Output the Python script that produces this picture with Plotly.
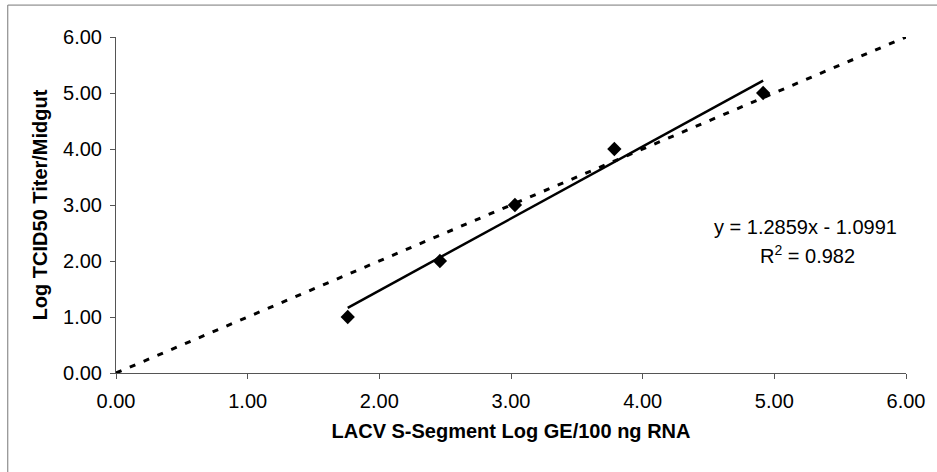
import plotly.graph_objects as go

# Data
ge_log = [1.76, 2.46, 3.03, 3.785, 4.915]
titer_log = [1.0, 2.0, 3.0, 4.0, 5.0]
slope = 1.2859
intercept = -1.0991
r2 = 0.982
ident_x = [0, 6]
ident_y = [0, 6]
tick_vals = [0, 1, 2, 3, 4, 5, 6]
tick_text = ["0.00", "1.00", "2.00", "3.00", "4.00", "5.00", "6.00"]

FONT = "Liberation Sans, Arial, sans-serif"

fit_x = [min(ge_log), max(ge_log)]
fit_y = [slope * v + intercept for v in fit_x]

fig = go.Figure()
fig.add_trace(go.Scatter(x=ident_x, y=ident_y, mode="lines",
                         line=dict(color="black", width=3, dash="6px,9px"),
                         showlegend=False, hoverinfo="skip"))
fig.add_trace(go.Scatter(x=fit_x, y=fit_y, mode="lines",
                         line=dict(color="black", width=2.5),
                         showlegend=False))
fig.add_trace(go.Scatter(x=ge_log, y=titer_log, mode="markers",
                         marker=dict(symbol="diamond", size=11, color="black"),
                         showlegend=False))

axis_common = dict(
    range=[0, 6], tickvals=tick_vals, ticktext=tick_text,
    showgrid=False, zeroline=False, showline=True,
    linecolor="#555", linewidth=1, ticks="outside", ticklen=5,
    tickcolor="#555", tickfont=dict(family=FONT, size=20, color="black"),
)

fig.update_layout(
    width=937, height=472,
    margin=dict(l=116, r=25, t=37, b=99),
    paper_bgcolor="white", plot_bgcolor="white",
    font=dict(family=FONT, color="black"),
    xaxis=dict(**axis_common, ticklabelstandoff=5,
               title=dict(text="<b>LACV S-Segment Log GE/100 ng RNA</b>",
                          font=dict(family=FONT, size=20), standoff=12)),
    yaxis=dict(**axis_common, ticklabelstandoff=4,
               title=dict(text="<b>Log TCID50 Titer/Midgut</b>",
                          font=dict(family=FONT, size=20), standoff=10)),
    annotations=[
        dict(x=5.24, y=2.61, xref="x", yref="y", showarrow=False,
             text=f"y = {slope}x - {abs(intercept)}",
             font=dict(family=FONT, size=20, color="black")),
        dict(x=5.255, y=2.125, xref="x", yref="y", showarrow=False,
             text=f"R<sup>2</sup> = {r2}",
             font=dict(family=FONT, size=20, color="black")),
    ],
    shapes=[
        dict(type="line", xref="paper", yref="paper",
             x0=-0.137, x1=1.04, y0=1.095, y1=1.095,
             line=dict(color="#777", width=1)),
        dict(type="line", xref="paper", yref="paper",
             x0=-0.137, x1=-0.137, y0=1.095, y1=-0.3,
             line=dict(color="#777", width=1)),
    ],
)

fig.write_html("out.html")
